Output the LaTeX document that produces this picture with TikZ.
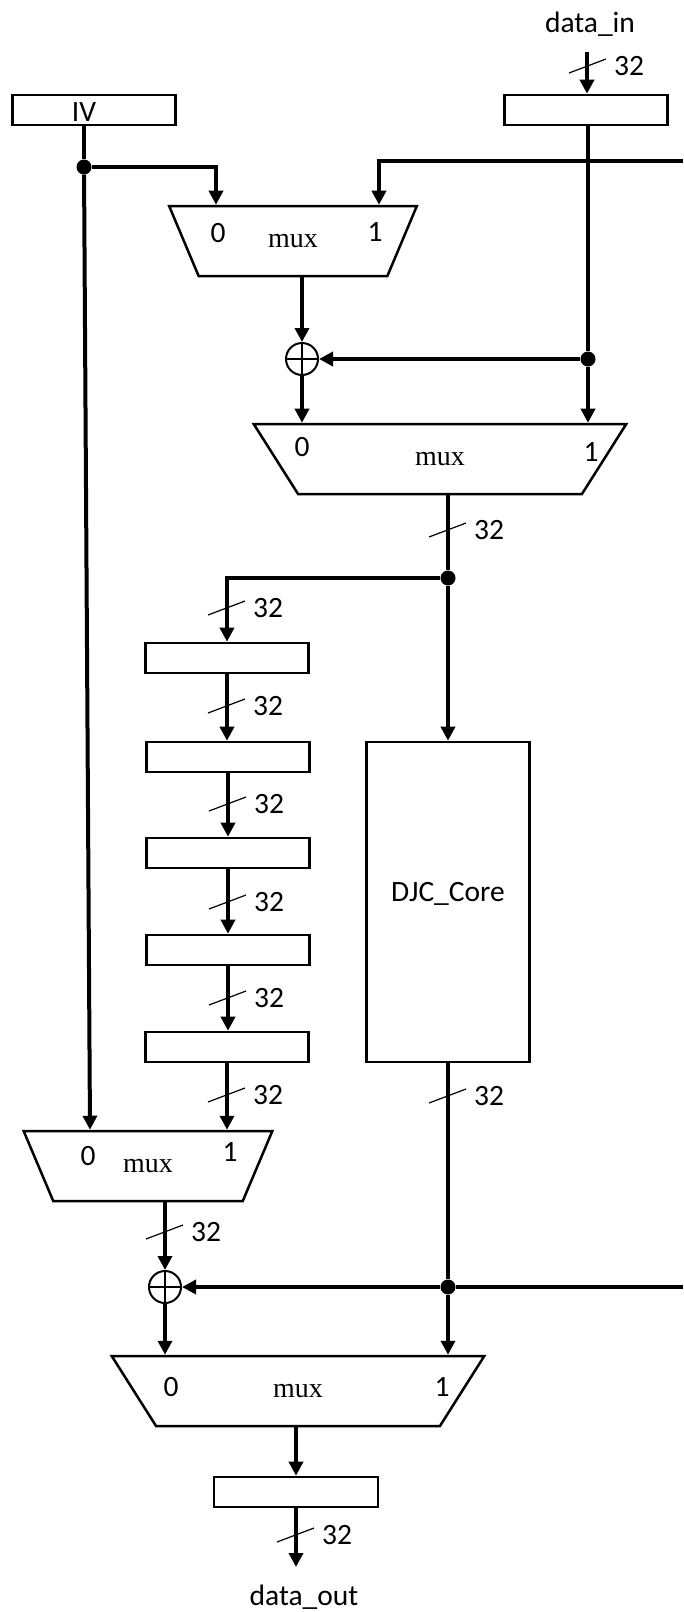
\documentclass[tikz,border=0pt]{standalone}
\usepackage{fontspec}
\setmainfont{Carlito}
\newfontfamily\muxfont{Liberation Serif}
\usetikzlibrary{arrows.meta,positioning,calc,shapes.geometric}

% bus width mark: slash across the wire and its label
\newcommand{\buswidth}[2]{%
  \draw[slash] ($(#2)+(-19,7)$) -- ($(#2)+(18,-7)$);
  \node[lbl, anchor=west] (#1) at ($(#2)+(26,0)$) {32};}

\begin{document}
\begin{tikzpicture}[
  x=1pt, y=-1pt,
  reg/.style={draw, line width=2.6pt, fill=white, minimum width=163pt, minimum height=30pt, inner sep=0pt, font=\fontsize{29.5}{31}\selectfont},
  mux/.style={draw, line width=2.5pt, fill=white, trapezium, shape border rotate=180, trapezium stretches=true,
    trapezium left angle=60, trapezium right angle=60, minimum height=70pt, inner sep=0pt, font=\muxfont\fontsize{28}{30}\selectfont},
  lbl/.style={font=\fontsize{29.5}{31}\selectfont, inner sep=0pt},
  bus/.style={line width=4pt, -{Triangle[length=14pt,width=14pt]}},
  wire/.style={line width=4pt},
  slash/.style={line width=1.2pt},
  dot/.style={circle, fill, inner sep=0pt, minimum size=15pt},
  xorop/.style={circle, draw, line width=2pt, fill=white, minimum size=32pt, inner sep=0pt,
    path picture={\draw[line width=2pt] (path picture bounding box.north) -- (path picture bounding box.south)
      (path picture bounding box.west) -- (path picture bounding box.east);}}
]
  \useasboundingbox (0,0) rectangle (683,1612);

  % inputs
  \node[reg] (iv) at (94,110) {};
  \node[lbl] (ivtxt) at (84,112) {IV};
  \node[reg] (inreg) at (586,110) {};
  \node[lbl] (din) at (590,24) {data\_in};
  \coordinate (dinend) at (587,52);
  \node[dot] (ivdot) at (84,167) {};
  \coordinate (fb1) at (683,161);

  % first stage
  \node[mux, minimum width=248pt] (m1) at (293,241) {mux};
  \node[lbl] (m1a) at (218,233) {0};
  \node[lbl] (m1b) at (375,232) {1};
  \node[xorop] (xor1) at (302,359) {};
  \node[dot] (dindot) at (588,359) {};
  \node[mux, minimum width=373pt] (m2) at (440,459) {mux};
  \node[lbl] (m2a) at (302,447) {0};
  \node[lbl] (m2b) at (591,452) {1};
  \node[dot] (m2dot) at (448,578) {};

  % delay line and core
  \node[reg] (regA) at (227,658) {};
  \node[reg] (regB) at (228,757) {};
  \node[reg] (regC) at (228,853) {};
  \node[reg] (regD) at (228,950) {};
  \node[reg] (regE) at (227,1047) {};
  \node[reg, minimum height=320pt] (djc) at (448,902) {\raisebox{20pt}{DJC\_Core}};

  % output stage
  \node[mux, minimum width=249pt] (m3) at (148,1166) {mux};
  \node[lbl] (m3a) at (88,1156) {0};
  \node[lbl] (m3b) at (230,1152) {1};
  \node[xorop] (xor2) at (165,1287) {};
  \node[dot] (djcdot) at (448,1287) {};
  \coordinate (fb2) at (683,1287);
  \node[mux, minimum width=373pt] (m4) at (298,1391) {mux};
  \node[lbl] (m4a) at (171,1387) {0};
  \node[lbl] (m4b) at (442,1387) {1};
  \node[reg, minimum width=164pt] (outreg) at (296,1492) {};
  \coordinate (doutend) at (296,1567);
  \node[lbl] (dout) at (304,1597) {data\_out};

  % connections
  \draw[bus] (dinend) -- (dinend |- inreg.north);
  \buswidth{w0}{588,66}
  \draw[wire] (dindot |- inreg.south) -- (dindot);
  \draw[bus] (dindot) -- (dindot |- m2.90);
  \draw[bus] (dindot) -- (xor1);
  \draw[wire] (iv.south -| ivdot) -- (ivdot);
  \draw[bus] (ivdot) -| (216,0 |- m1.90);
  \draw[bus] (fb1) -| (379,0 |- m1.90);
  \draw[bus] (302,0 |- m1.270) -- (xor1);
  \draw[bus] (xor1) -- (xor1 |- m2.90);
  \draw[wire] (448,0 |- m2.270) -- (m2dot);
  \buswidth{w1}{448,530}
  \draw[bus] (m2dot) -| (regA);
  \buswidth{w2}{227,608}
  \draw[bus] (m2dot) -- (djc);
  \draw[bus] (regA) -- (regA |- regB.north);
  \buswidth{w3}{227,706}
  \draw[bus] (regB) -- (regB |- regC.north);
  \buswidth{w4}{228,804}
  \draw[bus] (regC) -- (regC |- regD.north);
  \buswidth{w5}{228,902}
  \draw[bus] (regD) -- (regD |- regE.north);
  \buswidth{w6}{228,998}
  \draw[bus] (regE) -- (regE |- m3.90);
  \buswidth{w7}{227,1095}
  \draw[bus] (ivdot) -- (90,0 |- m3.90);
  \draw[bus] (165,0 |- m3.270) -- (xor2);
  \buswidth{w8}{165,1232}
  \draw[wire] (djc) -- (djcdot);
  \buswidth{w9}{448,1096}
  \draw[bus] (djcdot) -- (xor2);
  \draw[wire] (djcdot) -- (fb2);
  \draw[bus] (xor2) -- (xor2 |- m4.90);
  \draw[bus] (djcdot) -- (djcdot |- m4.90);
  \draw[bus] (296,0 |- m4.270) -- (outreg);
  \draw[bus] (outreg) -- (doutend);
  \buswidth{w10}{296,1535}
\end{tikzpicture}
\end{document}
